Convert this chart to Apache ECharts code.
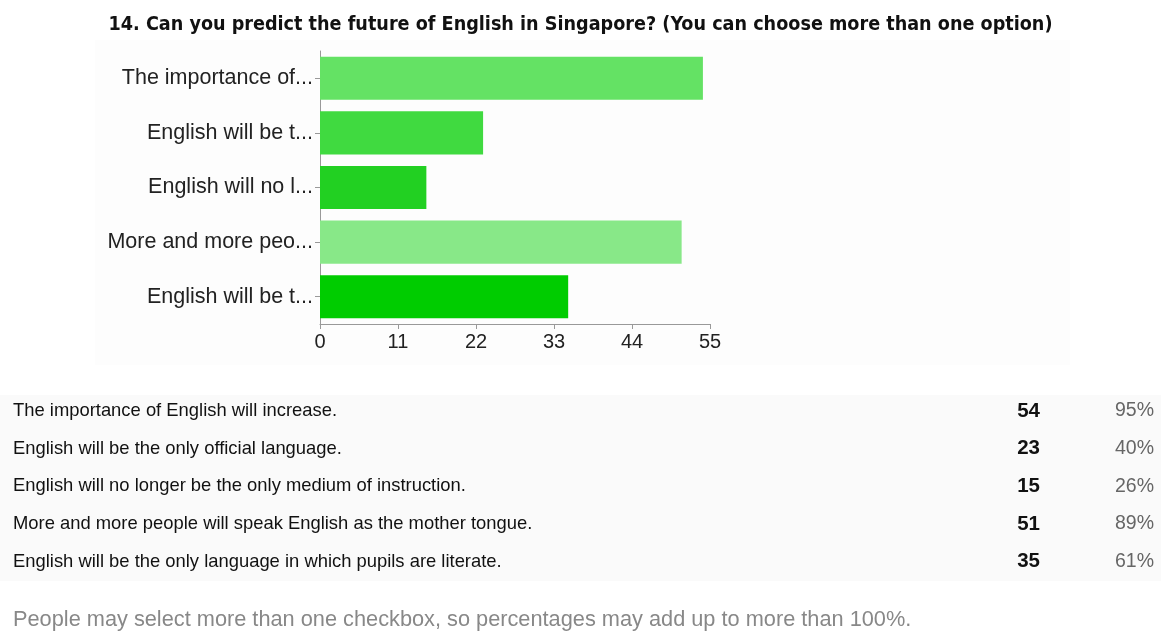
<!DOCTYPE html>
<html>
<head>
<meta charset="utf-8">
<title>14. Can you predict the future of English in Singapore?</title>
<script src="https://cdn.jsdelivr.net/npm/echarts@6/dist/echarts.min.js"></script>
<style>
  html, body { margin: 0; padding: 0; background: #ffffff; }
  #chart { width: 1161px; height: 632px; }
</style>
</head>
<body>
<div id="chart"></div>
<script>
// Survey answers, response counts and shares
const questionTitle = '14. Can you predict the future of English in Singapore? (You can choose more than one option)';
const answers = [
  'The importance of English will increase.',
  'English will be the only official language.',
  'English will no longer be the only medium of instruction.',
  'More and more people will speak English as the mother tongue.',
  'English will be the only language in which pupils are literate.'
];
const counts = [54, 23, 15, 51, 35];
const percents = ['95%', '40%', '26%', '89%', '61%'];
const xTicks = [0, 11, 22, 33, 44, 55];
const footNote = 'People may select more than one checkbox, so percentages may add up to more than 100%.';

// Bar fills, one shade per answer
const barColors = ['#64e264', '#40da40', '#22d022', '#88e888', '#00cc00'];

const chart = echarts.init(document.getElementById('chart'), null, { renderer: 'canvas' });

const sansFont = "'Liberation Sans', Arial, sans-serif";

// Summary table below the chart
const rowTop = 411;
const rowStep = 37.7;
const tableGraphics = [];
tableGraphics.push({
  type: 'rect', silent: true, z: -10,
  shape: { x: 95, y: 40, width: 975, height: 325 },
  style: { fill: '#fdfdfd' }
});
tableGraphics.push({
  type: 'rect', silent: true, z: -10,
  shape: { x: 0, y: 395, width: 1161, height: 186 },
  style: { fill: '#fafafa' }
});
answers.forEach((a, i) => {
  const y = rowTop + i * rowStep;
  tableGraphics.push({
    type: 'text', silent: true,
    style: { x: 13, y: y, text: a, fill: '#111', font: '18.4px ' + sansFont, textVerticalAlign: 'middle' }
  });
  tableGraphics.push({
    type: 'text', silent: true,
    style: { x: 1040, y: y, text: String(counts[i]), fill: '#111', font: 'bold 20.5px ' + sansFont, textAlign: 'right', textVerticalAlign: 'middle' }
  });
  tableGraphics.push({
    type: 'text', silent: true,
    style: { x: 1154, y: y, text: percents[i], fill: '#666', font: '19.5px ' + sansFont, textAlign: 'right', textVerticalAlign: 'middle' }
  });
});
tableGraphics.push({
  type: 'text', silent: true,
  style: { x: 13, y: 620, text: footNote, fill: '#888', font: '21.75px ' + sansFont, textVerticalAlign: 'middle' }
});

chart.setOption({
  animation: false,
  backgroundColor: '#ffffff',
  title: {
    text: questionTitle,
    left: 'center',
    top: 10,
    textStyle: {
      fontFamily: "'Liberation Sans Narrow', 'DejaVu Sans Condensed', sans-serif",
      fontWeight: 'bold',
      fontSize: 19.6,
      color: '#111'
    }
  },
  grid: { left: 320, right: 451, top: 51, bottom: 308, containLabel: false },
  xAxis: {
    type: 'value',
    min: xTicks[0],
    max: xTicks[xTicks.length - 1],
    interval: xTicks[1] - xTicks[0],
    axisLine: { show: true, lineStyle: { color: '#999', width: 1 } },
    axisTick: { show: true, length: 5, lineStyle: { color: '#999' } },
    splitLine: { show: false },
    axisLabel: { color: '#222', fontSize: 20, fontFamily: sansFont, margin: 8 }
  },
  yAxis: {
    type: 'category',
    inverse: true,
    data: answers,
    axisLine: { show: true, lineStyle: { color: '#999', width: 1 } },
    axisTick: { show: true, alignWithLabel: true, length: 5, lineStyle: { color: '#999' } },
    axisLabel: {
      color: '#222', fontSize: 21.5, fontFamily: sansFont, margin: 7,
      formatter: (s) => s.length > 17 ? s.slice(0, 17) + '...' : s
    }
  },
  series: [{
    type: 'bar',
    data: counts.map((v, i) => ({ value: v, itemStyle: { color: barColors[i] } })),
    barCategoryGap: '21%',
    silent: true
  }],
  graphic: tableGraphics
});
</script>
</body>
</html>
